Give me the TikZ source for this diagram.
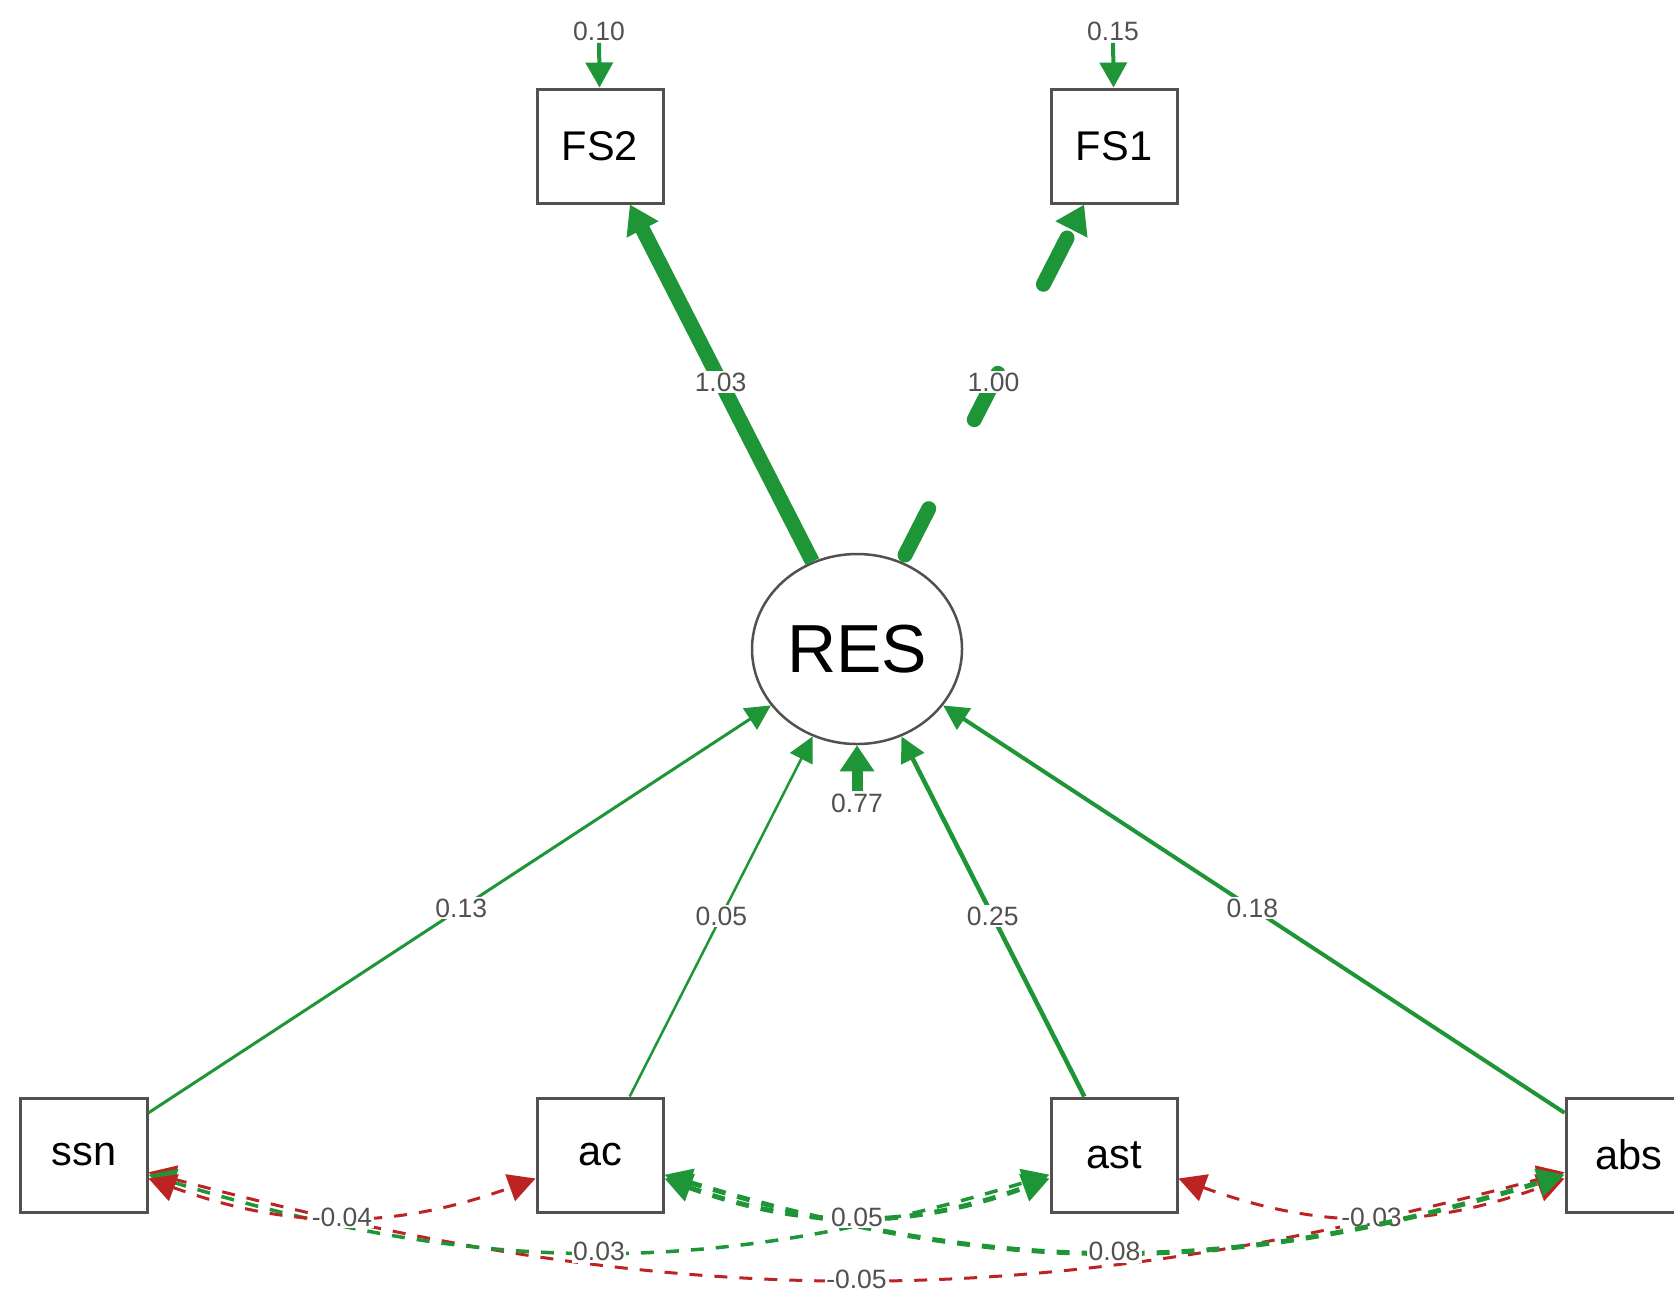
\documentclass[tikz,border=0pt]{standalone}
\usepackage{fontspec}
\setmainfont{Liberation Sans}
\usetikzlibrary{arrows.meta,calc,shapes.geometric}
\definecolor{posgreen}{RGB}{30,150,55}
\definecolor{negred}{RGB}{190,35,35}
\definecolor{bord}{RGB}{85,80,80}
\definecolor{labc}{RGB}{85,80,80}
\tikzset{
  manifest/.style={draw=bord, line width=0.6pt, minimum width=25.2pt, minimum height=22.8pt,
    fill=white, inner sep=0pt, font=\fontsize{8.3}{9}\selectfont},
  latent/.style={draw=bord, line width=0.5pt, ellipse, minimum width=42pt, minimum height=38pt,
    fill=white, inner sep=0pt, font=\fontsize{13.6}{14}\selectfont},
  lbl/.style={fill=white, text=labc, inner sep=0.3pt, font=\fontsize{5.3}{5.8}\selectfont},
  reg/.style={draw=posgreen, -{Triangle[length=5pt,width=5pt]}},
  resid/.style={draw=posgreen, line width=0.8pt, -{Triangle[length=5pt,width=5.4pt]}},
  cov/.style={dash pattern=on 2.6pt off 2.4pt,
    {Triangle[length=5.4pt,width=5.6pt]}-{Triangle[length=5.4pt,width=5.6pt]}},
}
\begin{document}
\begin{tikzpicture}[x=0.2pt,y=-0.2pt]
\useasboundingbox (0,0) rectangle (1674,1294);
\clip (0,0) rectangle (1674,1294);
% nodes
\node[manifest] (FS2) at (600,146) {FS2};
\node[manifest] (FS1) at (1114,146) {FS1};
\node[latent] (RES) at (857,649) {RES};
\node[manifest] (ssn) at (84,1155) {ssn};
\node[manifest] (ac) at (600,1155) {ac};
\node[manifest] (ast) at (1114,1155) {ast};
\node[manifest] (abs) at (1629,1155) {abs};
% loadings
\draw[posgreen, line width=3pt, -{Triangle[length=5.6pt,width=6.8pt]}] (RES) -- (FS2);
\draw[posgreen, line width=3pt, line cap=round, dash pattern=on 10.4pt off 20pt, dash phase=28.9pt,
  -{Triangle[length=5.6pt,width=6.8pt]}] (RES) -- (FS1);
\node[lbl] (l1) at ($(RES.center)!0.531!(FS2.center)$) {1.03};
\node[lbl] (l2) at ($(RES.center)!0.531!(FS1.center)$) {1.00};
% residuals
\node[lbl] (eFS2) at (599,31) {0.10};
\node[lbl] (eFS1) at (1113,31) {0.15};
\draw[resid] (eFS2) -- (FS2);
\draw[resid] (eFS1) -- (FS1);
\node[lbl] (eRES) at (857,803) {0.77};
\draw[posgreen, line width=2.2pt, -{Triangle[length=5.2pt,width=6.6pt]}] (eRES) -- (RES);
% regressions
\draw[reg, line width=0.6pt] (ssn) -- (RES);
\draw[reg, line width=0.5pt] (ac) -- (RES);
\draw[reg, line width=0.9pt] (ast) -- (RES);
\draw[reg, line width=0.8pt] (abs) -- (RES);
\node[lbl] (r1) at ($(ssn.center)!0.488!(RES.center)$) {0.13};
\node[lbl] (r2) at ($(ac.center)!0.472!(RES.center)$) {0.05};
\node[lbl] (r3) at ($(ast.center)!0.472!(RES.center)$) {0.25};
\node[lbl] (r4) at ($(abs.center)!0.488!(RES.center)$) {0.18};
% covariances
\draw[cov, negred, line width=0.6pt] (ssn) to[bend right=15] node[lbl] {-0.05} (abs);
\draw[cov, posgreen, line width=0.7pt] (ssn) to[bend right=17] node[lbl] {0.03} (ast);
\draw[cov, negred, line width=0.6pt] (ast) to[bend right=20] node[lbl] {-0.03} (abs);
\draw[cov, posgreen, line width=1pt] (ac) to[bend right=17] node[lbl] {0.08} (abs);
\draw[cov, negred, line width=0.6pt] (ssn) to[bend right=20] node[lbl] {-0.04} (ac);
\draw[cov, posgreen, line width=1pt] (ac) to[bend right=20] node[lbl] {0.05} (ast);
\end{tikzpicture}
\end{document}
